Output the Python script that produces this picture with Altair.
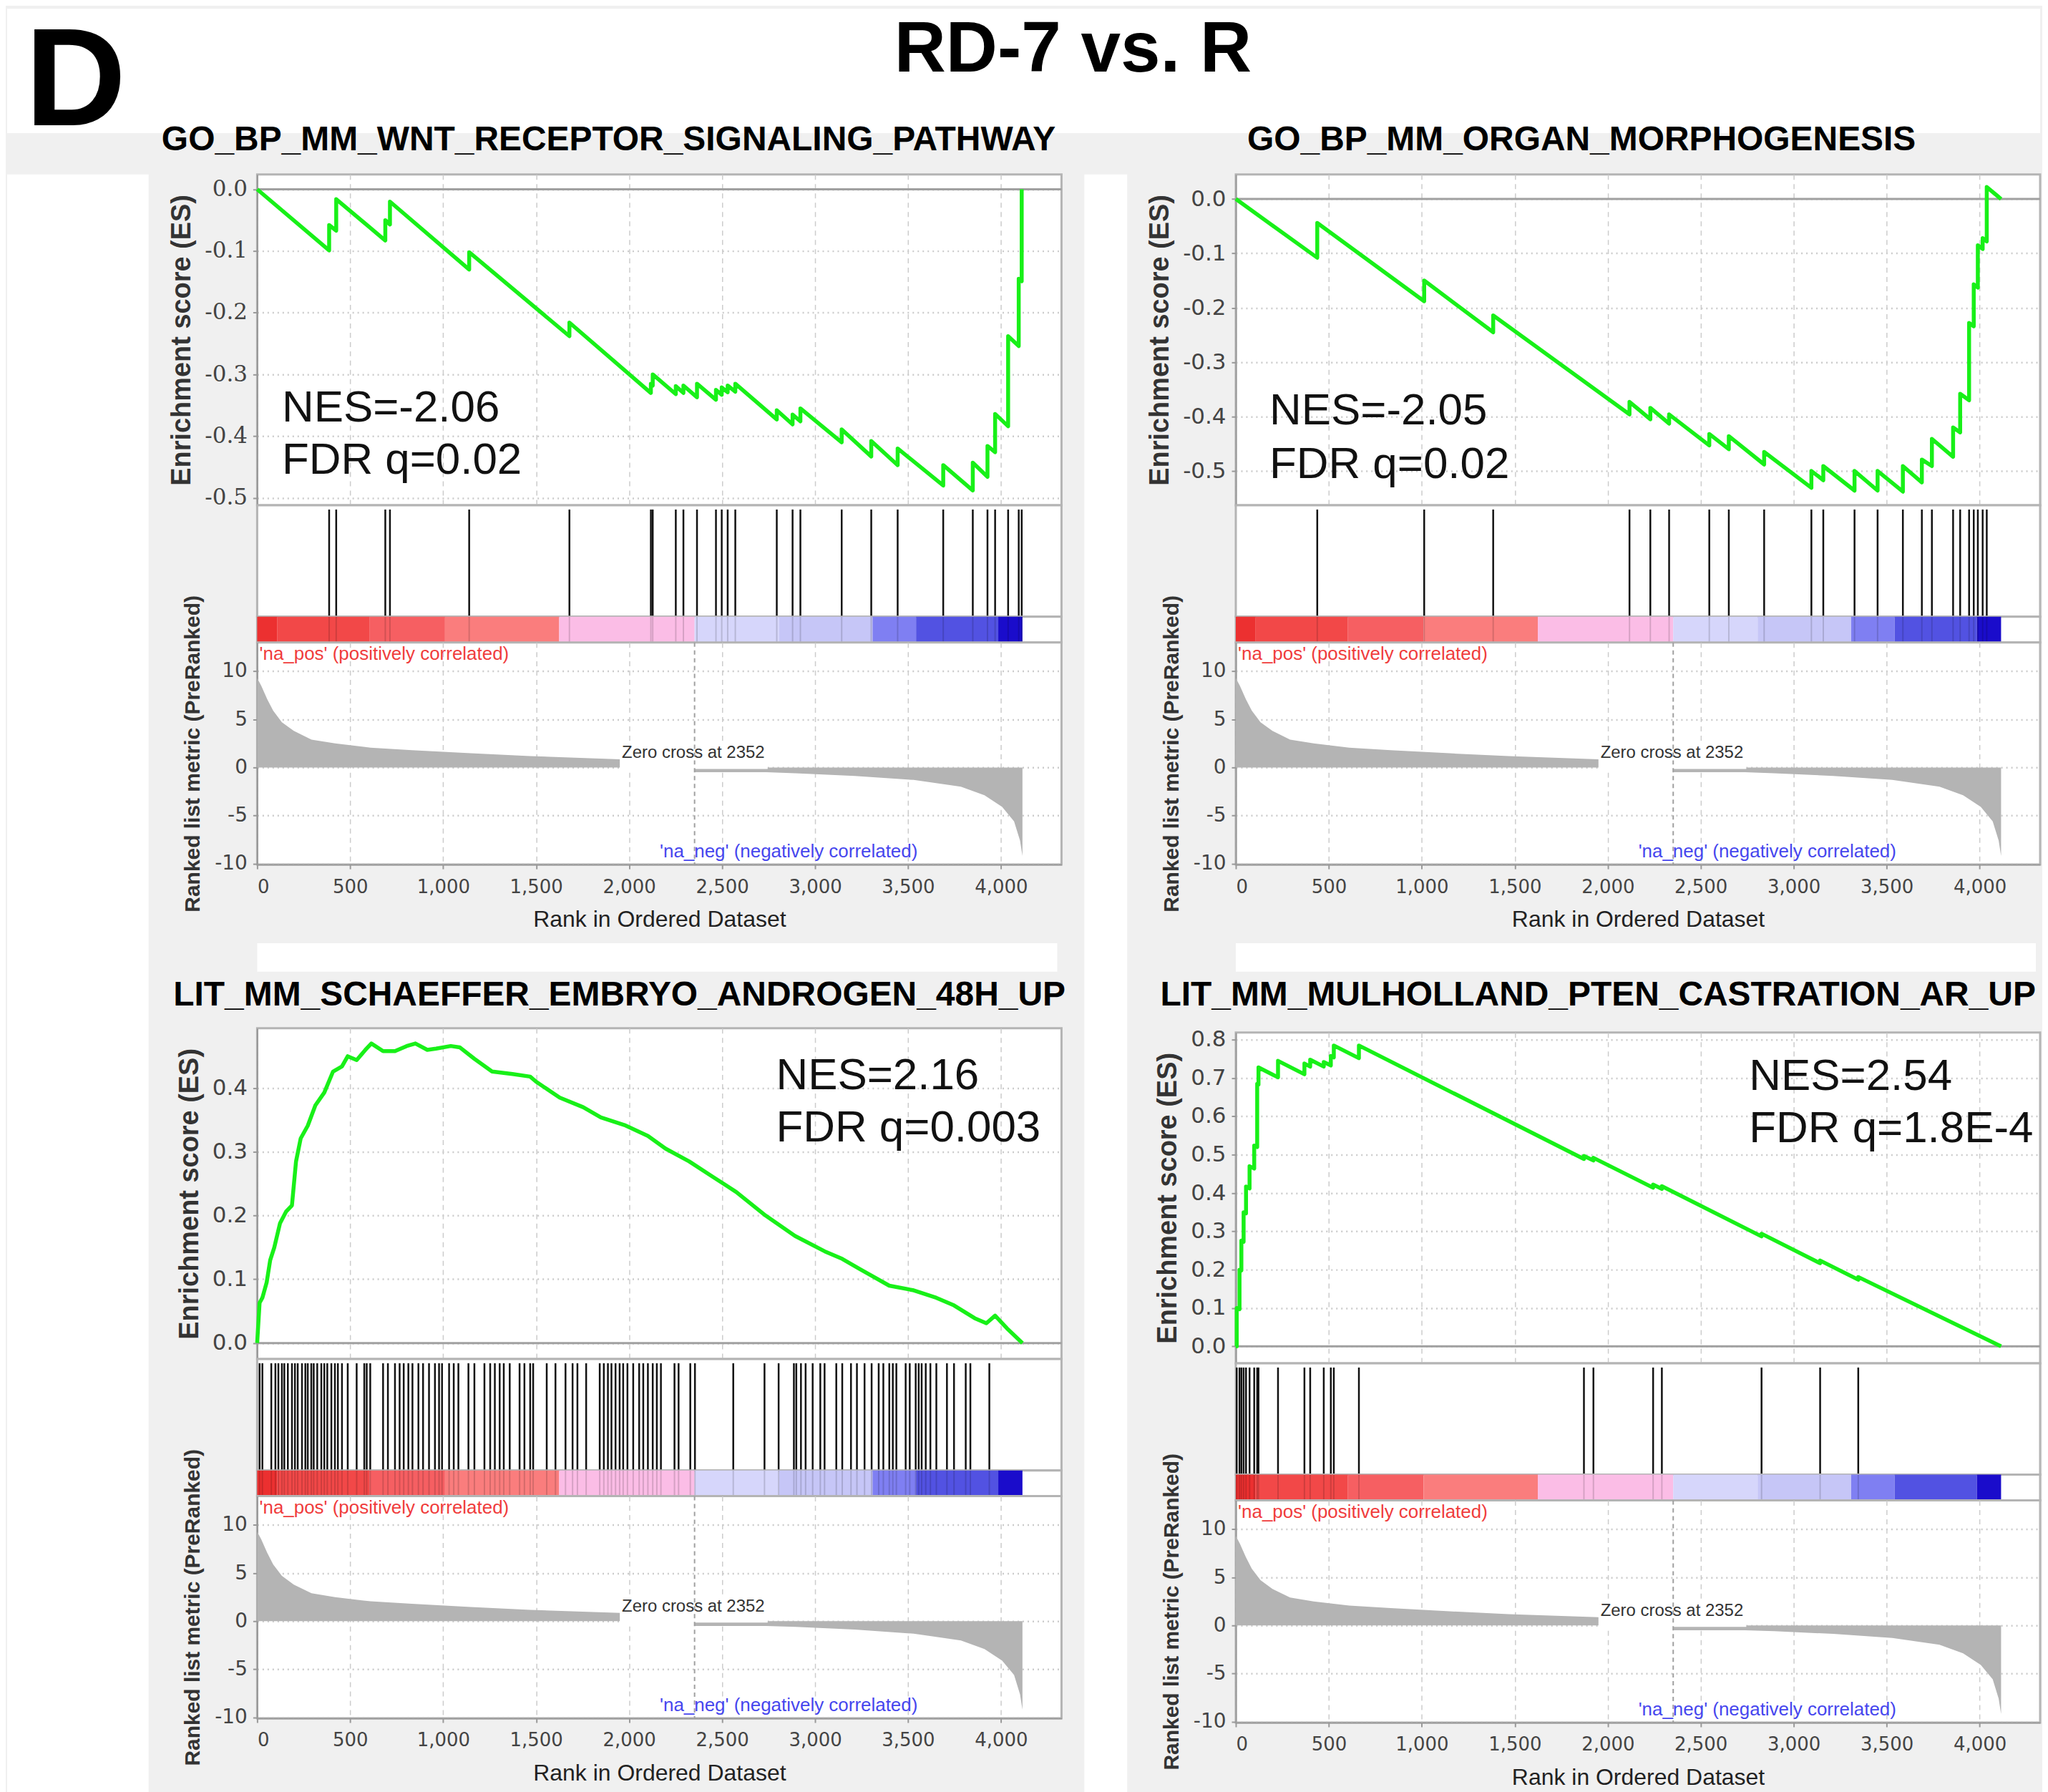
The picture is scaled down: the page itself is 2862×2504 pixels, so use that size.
import altair as alt
import pandas as pd

FONT = "Liberation Sans"
TICK_FONT = "DejaVu Sans"
BG = "#f0f0f0"
GREEN = "#18f018"
AREA = "#b4b4b4"
GRID = "#cccccc"
BORDER = "#b4b4b4"

W = 1126
H_ES, H_HIT, H_CB, H_MET = 463, 156, 36, 311
X_MAX = 4325
X_TICKS = [0, 500, 1000, 1500, 2000, 2500, 3000, 3500, 4000]
ZERO_CROSS = 2352

# colour band of the ranked list (same list for every panel)
COLOR_EDGES = [0, 107, 603, 1010, 1624, 2352, 2806, 3309, 3543, 3985, 4115]
COLOR_BAND = ["#ec3030", "#f24848", "#f65f62", "#fa7d7d", "#fbbde6",
              "#d6d6fb", "#c6c6f7", "#7f7ff2", "#5252e2", "#1a0ccb"]

# ranked list metric
METRIC_RANK = [0, 22, 54, 86, 133, 197, 292, 419, 610, 832, 1149, 1467, 1950, 2351,
               2352, 2737, 2895, 3213, 3530, 3784, 3911, 4006, 4070, 4102, 4115]
METRIC_VAL = [9.3, 8.5, 7.1, 5.9, 4.7, 3.8, 2.9, 2.5, 2.06, 1.8, 1.47, 1.18, 0.85, 0.5,
              -0.5, -0.5, -0.6, -0.88, -1.3, -2.0, -2.9, -4.1, -5.6, -7.6, -9.2]
ZERO_BOX = {"rank": [1950], "rank2": [2745], "metric": [-0.15], "metric2": [2.4]}
ZERO_LABEL = {"rank": [2345], "metric": [1.5], "label": ["Zero cross at 2352"]}
POS_LABEL = {"rank": [12], "metric": [11.8], "label": ["'na_pos' (positively correlated)"]}
NEG_LABEL = {"rank": [2165], "metric": [-8.74], "label": ["'na_neg' (negatively correlated)"]}

# ---- panel 1: WNT receptor signalling
WNT_NAME = "GO_BP_MM_WNT_RECEPTOR_SIGNALING_PATHWAY"
WNT_HITS = [387, 425, 689, 714, 1140, 1679, 2117, 2127, 2251, 2292, 2365, 2467, 2498,
            2530, 2571, 2794, 2879, 2921, 3143, 3302, 3444, 3689, 3848, 3927, 3968,
            4038, 4095, 4111]
WNT_ES_RANK = [0, 387, 387, 425, 425, 689, 689, 714, 714, 1140, 1140, 1679, 1679,
               2117, 2117, 2127, 2127, 2251, 2251, 2292, 2292, 2365, 2365, 2467, 2467,
               2498, 2498, 2530, 2530, 2571, 2571, 2794, 2794, 2879, 2879, 2921, 2921,
               3143, 3143, 3302, 3302, 3444, 3444, 3689, 3689, 3848, 3848, 3927, 3927,
               3968, 3968, 4038, 4038, 4095, 4095, 4111, 4111]
WNT_ES_VAL = [0, -0.099, -0.058, -0.067, -0.016, -0.083, -0.050, -0.057, -0.020,
              -0.130, -0.102, -0.238, -0.216, -0.330, -0.315, -0.318, -0.300, -0.332,
              -0.319, -0.330, -0.318, -0.337, -0.315, -0.341, -0.325, -0.333, -0.321,
              -0.329, -0.318, -0.328, -0.315, -0.373, -0.358, -0.381, -0.365, -0.376,
              -0.355, -0.410, -0.389, -0.433, -0.408, -0.447, -0.420, -0.480, -0.447,
              -0.488, -0.443, -0.466, -0.416, -0.426, -0.364, -0.384, -0.238, -0.254,
              -0.145, -0.149, 0.0]

# ---- panel 2: organ morphogenesis
ORG_NAME = "GO_BP_MM_ORGAN_MORPHOGENESIS"
ORG_HITS = [438, 1013, 1384, 2117, 2229, 2330, 2546, 2651, 2841, 3095, 3159, 3327,
            3451, 3587, 3689, 3743, 3857, 3895, 3943, 3968, 3990, 4016, 4038]
ORG_ES_RANK = [0, 438, 438, 1013, 1013, 1384, 1384, 2117, 2117, 2229, 2229, 2330, 2330,
               2546, 2546, 2651, 2651, 2841, 2841, 3095, 3095, 3159, 3159, 3327, 3327,
               3451, 3451, 3587, 3587, 3689, 3689, 3743, 3743, 3857, 3857, 3895, 3895,
               3943, 3943, 3968, 3968, 3990, 3990, 4016, 4016, 4038, 4038, 4115]
ORG_ES_VAL = [0, -0.108, -0.044, -0.188, -0.150, -0.245, -0.214, -0.396, -0.373,
              -0.405, -0.384, -0.413, -0.396, -0.453, -0.432, -0.460, -0.436, -0.488,
              -0.465, -0.531, -0.500, -0.517, -0.491, -0.536, -0.500, -0.536, -0.500,
              -0.538, -0.491, -0.521, -0.479, -0.491, -0.441, -0.474, -0.420, -0.429,
              -0.358, -0.370, -0.228, -0.234, -0.157, -0.163, -0.085, -0.092, -0.072,
              -0.078, 0.022, 0.0]

# ---- panel 3: Schaeffer embryo androgen
SCH_NAME = "LIT_MM_SCHAEFFER_EMBRYO_ANDROGEN_48H_UP"
SCH_HITS = [13, 28, 76, 98, 114, 133, 146, 165, 187, 203, 218, 241, 259, 272, 291, 304,
            323, 345, 361, 377, 399, 418, 434, 456, 487, 535, 576, 589, 608, 677, 703,
            741, 766, 788, 813, 835, 867, 892, 924, 956, 978, 994, 1032, 1057, 1082,
            1136, 1168, 1222, 1253, 1278, 1304, 1326, 1358, 1411, 1437, 1468, 1484,
            1557, 1604, 1658, 1696, 1722, 1769, 1842, 1864, 1886, 1905, 1927, 1949,
            1968, 1991, 2022, 2054, 2076, 2101, 2127, 2149, 2171, 2244, 2266, 2329,
            2354, 2560, 2728, 2804, 2886, 2899, 2924, 2949, 2987, 3028, 3051, 3114,
            3146, 3193, 3225, 3266, 3304, 3342, 3367, 3399, 3418, 3437, 3487, 3509,
            3541, 3557, 3573, 3595, 3620, 3652, 3709, 3747, 3810, 3835, 3937]
SCH_ES_RANK = [0, 13, 28, 51, 70, 92, 123, 155, 187, 209, 234, 272, 313, 361, 408, 456,
               487, 535, 582, 614, 677, 741, 804, 851, 915, 962, 1041, 1089, 1168, 1263,
               1373, 1468, 1500, 1627, 1753, 1848, 1975, 2101, 2196, 2323, 2449, 2576,
               2734, 2892, 3051, 3146, 3241, 3399, 3525, 3652, 3747, 3858, 3921, 3968,
               4032, 4115]
SCH_ES_VAL = [0, 0.063, 0.071, 0.095, 0.13, 0.15, 0.188, 0.206, 0.216, 0.285, 0.321,
              0.341, 0.373, 0.393, 0.426, 0.434, 0.45, 0.444, 0.46, 0.47, 0.458, 0.458,
              0.466, 0.47, 0.46, 0.462, 0.466, 0.464, 0.446, 0.426, 0.422, 0.418, 0.41,
              0.385, 0.37, 0.354, 0.342, 0.325, 0.305, 0.285, 0.261, 0.237, 0.20, 0.168,
              0.144, 0.132, 0.116, 0.09, 0.083, 0.071, 0.059, 0.039, 0.031, 0.043, 0.023,
              0.0]

# ---- panel 4: Mulholland PTEN castration
MUL_NAME = "LIT_MM_MULHOLLAND_PTEN_CASTRATION_AR_UP"
MUL_HITS = [5, 20, 30, 42, 55, 74, 99, 115, 122, 227, 369, 400, 473, 511, 527, 662,
            1872, 1923, 2244, 2291, 2827, 3142, 3347]
MUL_ES_RANK = [0, 5, 5, 20, 20, 30, 30, 42, 42, 55, 55, 74, 74, 99, 99, 115, 115, 122,
               122, 227, 227, 369, 369, 400, 400, 473, 473, 511, 511, 527, 527, 662, 662,
               1872, 1872, 1923, 1923, 2244, 2244, 2291, 2291, 2827, 2827, 3142, 3142,
               3347, 3347, 4115]
MUL_ES_VAL = [0, 0, 0.10, 0.097, 0.20, 0.198, 0.276, 0.273, 0.35, 0.347, 0.417, 0.412,
              0.47, 0.464, 0.524, 0.52, 0.685, 0.683, 0.728, 0.702, 0.745, 0.710, 0.738,
              0.730, 0.748, 0.730, 0.742, 0.733, 0.758, 0.754, 0.785, 0.752, 0.785,
              0.489, 0.497, 0.485, 0.492, 0.414, 0.422, 0.411, 0.418, 0.287, 0.294,
              0.217, 0.224, 0.174, 0.181, 0.0]

PANELS = [
    dict(name=WNT_NAME, hits=WNT_HITS, es_rank=WNT_ES_RANK, es_val=WNT_ES_VAL,
         es_dom=[-0.512, 0.024], es_ticks=[-0.5, -0.4, -0.3, -0.2, -0.1, 0.0],
         nes="NES=-2.06", fdr="FDR q=0.02", nes_at=(133, -0.354), fdr_at=(133, -0.439),
         tick_font="DejaVu Serif"),
    dict(name=ORG_NAME, hits=ORG_HITS, es_rank=ORG_ES_RANK, es_val=ORG_ES_VAL,
         es_dom=[-0.563, 0.045], es_ticks=[-0.5, -0.4, -0.3, -0.2, -0.1, 0.0],
         nes="NES=-2.05", fdr="FDR q=0.02", nes_at=(181, -0.389), fdr_at=(181, -0.488),
         tick_font=TICK_FONT),
    dict(name=SCH_NAME, hits=SCH_HITS, es_rank=SCH_ES_RANK, es_val=SCH_ES_VAL,
         es_dom=[-0.025, 0.494], es_ticks=[0.0, 0.1, 0.2, 0.3, 0.4],
         nes="NES=2.16", fdr="FDR q=0.003", nes_at=(2790, 0.420), fdr_at=(2790, 0.3375),
         tick_font=TICK_FONT),
    dict(name=MUL_NAME, hits=MUL_HITS, es_rank=MUL_ES_RANK, es_val=MUL_ES_VAL,
         es_dom=[-0.044, 0.819], es_ticks=[0.0, 0.1, 0.2, 0.3, 0.4, 0.5, 0.6, 0.7, 0.8],
         nes="NES=2.54", fdr="FDR q=1.8E-4", nes_at=(2760, 0.705), fdr_at=(2760, 0.568),
         tick_font=TICK_FONT),
]

ES_LABEL_EXPR = "(datum.value < 0 ? '-' : '') + format(abs(datum.value), '.1f')"
MET_LABEL_EXPR = "(datum.value < 0 ? '-' : '') + format(abs(datum.value), 'd')"


def x_scale():
    return alt.Scale(domain=[0, X_MAX], nice=False, zero=False)


def es_view(p):
    xe = alt.X("rank:Q", scale=x_scale(),
               axis=alt.Axis(values=X_TICKS, labels=False, ticks=False, domain=False,
                             title=None, grid=True, gridDash=[7, 6], gridColor=GRID,
                             gridWidth=1.5))
    ye = alt.Y("es:Q", scale=alt.Scale(domain=p["es_dom"], nice=False, zero=False),
               axis=alt.Axis(values=p["es_ticks"], labelExpr=ES_LABEL_EXPR,
                             title="Enrichment score (ES)", grid=True, gridDash=[2, 5],
                             gridColor=GRID, gridWidth=2.5, labelFont=p["tick_font"],
                             labelFontSize=31, labelColor="#444", labelPadding=8,
                             tickSize=6, tickColor="#999", tickWidth=2,
                             domainColor="#999", domainWidth=2, titleFont=FONT,
                             titleFontSize=38, titleFontWeight="bold",
                             titleColor="#333", titlePadding=12))
    df = pd.DataFrame({"rank": p["es_rank"], "es": p["es_val"],
                       "i": list(range(len(p["es_rank"])))})
    zero = alt.Chart(pd.DataFrame({"es": [0.0]})).mark_rule(
        color="#a0a0a0", strokeWidth=3).encode(y=ye)
    line = alt.Chart(df).mark_line(color=GREEN, strokeWidth=5.5, strokeJoin="round").encode(
        x=xe, y=ye, order="i:Q")
    ann = pd.DataFrame({"rank": [p["nes_at"][0], p["fdr_at"][0]],
                        "es": [p["nes_at"][1], p["fdr_at"][1]],
                        "label": [p["nes"], p["fdr"]]})
    txt = alt.Chart(ann).mark_text(align="left", baseline="middle", font=FONT,
                                   fontSize=62, color="#111").encode(
        x=xe, y=ye, text="label:N")
    return alt.layer(zero, line, txt).properties(width=W, height=H_ES)


def hits_view(p):
    xe = alt.X("rank:Q", scale=x_scale(), axis=None)
    df = pd.DataFrame({"rank": p["hits"]})
    return alt.Chart(df).mark_rule(color="#111", strokeWidth=2.5).encode(
        x=xe, y=alt.value(6), y2=alt.value(H_HIT)).properties(width=W, height=H_HIT)


def cbar_view(p):
    xe = alt.X("rank:Q", scale=x_scale(), axis=None)
    df = pd.DataFrame({"rank": COLOR_EDGES[:-1], "rank2": COLOR_EDGES[1:],
                       "color": COLOR_BAND})
    bands = alt.Chart(df).mark_rect().encode(
        x=xe, x2="rank2:Q", y=alt.value(0), y2=alt.value(H_CB),
        color=alt.Color("color:N", scale=None))
    ghost = alt.Chart(pd.DataFrame({"rank": p["hits"]})).mark_rule(
        color="#000", opacity=0.15, strokeWidth=2).encode(
        x=xe, y=alt.value(0), y2=alt.value(H_CB))
    return alt.layer(bands, ghost).properties(width=W, height=H_CB)


def metric_view():
    xe = alt.X("rank:Q", scale=x_scale(),
               axis=alt.Axis(values=X_TICKS, format=",d", title="Rank in Ordered Dataset",
                             grid=True, gridDash=[7, 6], gridColor=GRID, gridWidth=1.5,
                             labelFont=TICK_FONT, labelFontSize=26, labelColor="#444",
                             labelPadding=12, tickSize=6, tickColor="#999", tickWidth=2,
                             domainColor="#999", domainWidth=2, titleFont=FONT,
                             titleFontSize=32, titleFontWeight="normal",
                             titleColor="#222", titlePadding=18))
    ye = alt.Y("metric:Q", scale=alt.Scale(domain=[-10.1, 13.0], nice=False, zero=False),
               axis=alt.Axis(values=[-10, -5, 0, 5, 10], labelExpr=MET_LABEL_EXPR,
                             title="Ranked list metric (PreRanked)", grid=True,
                             gridDash=[2, 5], gridColor=GRID, gridWidth=2.5,
                             labelFont=TICK_FONT, labelFontSize=28, labelColor="#444",
                             labelPadding=8, tickSize=6, tickColor="#999", tickWidth=2,
                             domainColor="#999", domainWidth=2, titleFont=FONT,
                             titleFontSize=30, titleFontWeight="bold",
                             titleColor="#333", titlePadding=15))
    df = pd.DataFrame({"rank": METRIC_RANK, "metric": METRIC_VAL,
                       "base": [0.0] * len(METRIC_RANK)})
    area = alt.Chart(df).mark_area(color=AREA, fill=AREA, opacity=1,
                                   interpolate="linear").encode(
        x=xe, y=ye, y2="base:Q")
    box = alt.Chart(pd.DataFrame(ZERO_BOX)).mark_rect(color="white").encode(
        x=xe, x2="rank2:Q", y=ye, y2="metric2:Q")
    zc = alt.Chart(pd.DataFrame({"rank": [ZERO_CROSS]})).mark_rule(
        color="#a0a0a0", strokeDash=[6, 5], strokeWidth=2).encode(x=xe)
    zlab = alt.Chart(pd.DataFrame(ZERO_LABEL)).mark_text(
        font=FONT, fontSize=24, color="#333").encode(x=xe, y=ye, text="label:N")
    pos = alt.Chart(pd.DataFrame(POS_LABEL)).mark_text(
        font=FONT, fontSize=26, color="#f03c3c", align="left").encode(
        x=xe, y=ye, text="label:N")
    neg = alt.Chart(pd.DataFrame(NEG_LABEL)).mark_text(
        font=FONT, fontSize=26, color="#4646ee", align="left").encode(
        x=xe, y=ye, text="label:N")
    return alt.layer(area, box, zc, zlab, pos, neg).properties(width=W, height=H_MET)


def panel(p, with_title):
    kw = dict(spacing=0, bounds="flush")
    if with_title:
        kw["title"] = alt.TitleParams(p["name"], font=FONT, fontSize=48,
                                      fontWeight="bold", color="#000", anchor="middle",
                                      offset=-18, baseline="alphabetic")
    return alt.vconcat(es_view(p), hits_view(p), cbar_view(p), metric_view(),
                       **kw).resolve_scale(x="independent", y="independent")


def text_item(label, x, y, size, align="center", baseline="alphabetic"):
    return alt.Chart(pd.DataFrame({"label": [label]})).mark_text(
        font=FONT, fontSize=size, fontWeight="bold", color="#000", align=align,
        baseline=baseline).encode(text="label:N", x=alt.value(x), y=alt.value(y))


def blank(width, height, fill):
    return alt.Chart(pd.DataFrame({"label": [""]})).mark_text().encode(
        text="label:N", x=alt.value(0), y=alt.value(0)).properties(
        width=width, height=height,
        view=alt.ViewBackground(fill=fill, stroke="transparent"))


header_top = alt.layer(
    text_item("D", 25, 8, 196, "left", "top"),
    text_item("RD-7 vs. R", 1492, 88, 100),
).properties(width=2846, height=174,
             view=alt.ViewBackground(fill="white", stroke="transparent"))

header_titles = alt.layer(
    text_item(WNT_NAME, 842, 24, 48),
    text_item(ORG_NAME, 2204, 24, 48),
).properties(width=2846, height=58,
             view=alt.ViewBackground(fill="transparent", stroke="transparent"))

col1 = alt.vconcat(panel(PANELS[0], False), blank(1120, 40, "white"),
                   panel(PANELS[2], True),
                   spacing=7).resolve_scale(x="independent", y="independent")
col2 = alt.vconcat(panel(PANELS[1], False), blank(1120, 40, "white"),
                   panel(PANELS[3], True),
                   spacing=7).resolve_scale(x="independent", y="independent")
grid = alt.hconcat(blank(198, 2300, "white"), col1, blank(60, 2300, "white"), col2,
                   spacing=24).resolve_scale(x="independent", y="independent")

chart = alt.vconcat(header_top, header_titles, grid, spacing=0, bounds="flush").resolve_scale(
    x="independent", y="independent").properties(
    padding=0, background=BG).configure_view(stroke=BORDER, strokeWidth=3, fill="white")

chart.save("out.html", embed_options={"renderer": "svg", "actions": False})
